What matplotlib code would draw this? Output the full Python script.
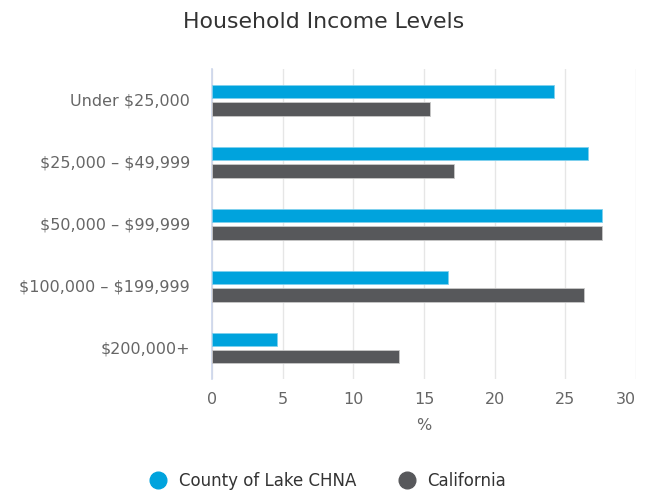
import matplotlib
matplotlib.use("Agg")
import matplotlib.pyplot as plt
import numpy as np
from matplotlib.lines import Line2D

plt.rcParams["font.family"] = ["DejaVu Sans"]
plt.rcParams["text.parse_math"] = False

# Data
categories = ["Under $25,000", "$25,000 – $49,999", "$50,000 – $99,999",
              "$100,000 – $199,999", "$200,000+"]
lake_chna = [24.2, 26.6, 27.6, 16.7, 4.6]
california = [15.4, 17.1, 27.6, 26.3, 13.2]
series_names = ["County of Lake CHNA", "California"]
x_ticks = [0, 5, 10, 15, 20, 25, 30]

BLUE = "#00a3dd"
DARK = "#57585b"
LABEL = "#666666"

fig = plt.figure(figsize=(6.48, 4.91), dpi=100)
ax = fig.add_axes([212 / 648, 1 - 379 / 491, (636 - 212) / 648, (379 - 69) / 491])

y = np.arange(len(categories))
h = 0.22
ax.barh(y - 0.135, lake_chna, height=h, color=BLUE, edgecolor="#7fd0ee", linewidth=0.6, zorder=3)
ax.barh(y + 0.14, california, height=h, color=DARK, edgecolor="#c8c8c8", linewidth=0.6, zorder=3)

ax.set_ylim(len(categories) - 0.5, -0.5)
ax.set_xlim(0, 30)
ax.set_yticks(y)
ax.set_yticklabels(categories, fontsize=11.5, color=LABEL)
ax.set_xticks(x_ticks)
ax.set_xticklabels([str(t) for t in x_ticks], fontsize=11.5, color=LABEL)
# last label sits inside the plot edge, like the original
ax.get_xticklabels()[-1].set_horizontalalignment("right")
ax.tick_params(axis="y", length=0, pad=16)
ax.tick_params(axis="x", length=0, pad=9)

ax.grid(axis="x", color="#e6e6e6", linewidth=1, zorder=0)
for side in ["top", "right", "bottom"]:
    ax.spines[side].set_visible(False)
ax.spines["left"].set_color("#ccd6eb")
ax.spines["left"].set_linewidth(1.2)

ax.set_xlabel("%", fontsize=11.5, color=LABEL, labelpad=8)

fig.text(0.5, 1 - 22 / 491, "Household Income Levels", ha="center", va="center",
         fontsize=15.8, color="#333333")

handles = [Line2D([], [], marker="o", linestyle="", markersize=12, color=c)
           for c in (BLUE, DARK)]
fig.legend(handles, series_names, loc="center", bbox_to_anchor=(0.5, 1 - 481 / 491),
           ncol=2, frameon=False, fontsize=12, labelcolor="#333333",
           handletextpad=0.25, columnspacing=2.0)

fig.savefig("out.png", dpi=100)
